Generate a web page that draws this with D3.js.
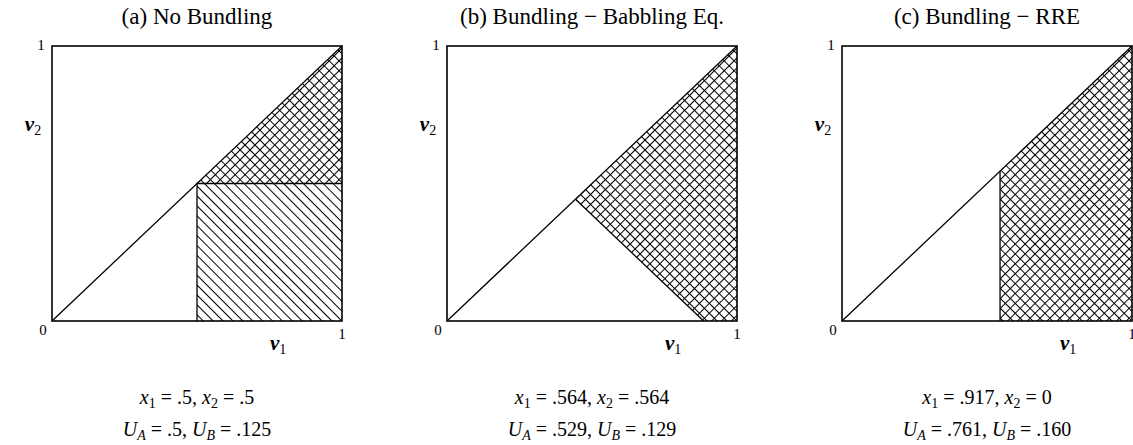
<!doctype html>
<html>
<head>
  <script src="https://d3js.org/d3.v7.min.js"></script>
</head>
<style>
  body {
    margin: 0;
    background: white;
  }

  svg text {
    font-family: "Liberation Serif", "Times New Roman", serif;
    fill: black;
  }
</style>
<body>
<svg></svg>

<script>
  // panel titles and the equilibrium numbers printed under each panel
  const titles = ["(a) No Bundling", "(b) Bundling \u2212 Babbling Eq.", "(c) Bundling \u2212 RRE"];
  const x1Vals = [".5", ".564", ".917"];
  const x2Vals = [".5", ".564", "0"];
  const uaVals = [".5", ".529", ".761"];
  const ubVals = [".125", ".129", ".160"];

  // regions in (v1, v2) units, one polygon per panel
  const crossRegions = [
    [[0.5, 0.5], [1, 1], [1, 0.5]],
    [[0.443, 0.443], [1, 1], [1, 0], [0.885, 0]],
    [[0.545, 0], [0.545, 0.545], [1, 1], [1, 0]]
  ];
  const hatchRegions = [
    [[0.5, 0], [1, 0], [1, 0.5], [0.5, 0.5]],
    null,
    null
  ];
  // boundary segments drawn over the regions
  const boundaries = [
    [[[0.5, 0], [0.5, 0.5], [1, 0.5]]],
    [[[0.443, 0.443], [0.885, 0]]],
    [[[0.545, 0], [0.545, 0.545]]]
  ];

  const chartWidth = 1133, chartHeight = 445;
  const panelLeft = [52, 447, 842];
  const panelW = 290, panelTop = 46, panelBottom = 321;
  const panelH = panelBottom - panelTop;

  const svg = d3.select("svg")
    .attr("width", chartWidth)
    .attr("height", chartHeight);

  const defs = svg.append("defs");
  const gap = 7;
  const cross = defs.append("pattern")
    .attr("id", "cross")
    .attr("patternUnits", "userSpaceOnUse")
    .attr("width", gap).attr("height", gap)
    .attr("patternTransform", "rotate(45)");
  cross.append("line")
    .attr("x1", 0).attr("y1", gap / 2).attr("x2", gap).attr("y2", gap / 2)
    .attr("stroke", "black").attr("stroke-width", 1);
  cross.append("line")
    .attr("x1", gap / 2).attr("y1", 0).attr("x2", gap / 2).attr("y2", gap)
    .attr("stroke", "black").attr("stroke-width", 1);

  const hatch = defs.append("pattern")
    .attr("id", "hatch")
    .attr("patternUnits", "userSpaceOnUse")
    .attr("width", gap).attr("height", gap)
    .attr("patternTransform", "rotate(45)");
  hatch.append("line")
    .attr("x1", 0).attr("y1", gap / 2).attr("x2", gap).attr("y2", gap / 2)
    .attr("stroke", "black").attr("stroke-width", 1);

  titles.forEach(function (title, i) {
    const g = svg.append("g")
      .attr("transform", `translate(${panelLeft[i]}, ${panelTop})`);
    const x = d3.scaleLinear().domain([0, 1]).range([0, panelW]);
    const y = d3.scaleLinear().domain([0, 1]).range([panelH, 0]);
    const line = d3.line().x(d => x(d[0])).y(d => y(d[1]));

    if (hatchRegions[i]) {
      g.append("path")
        .attr("d", line(hatchRegions[i]) + "Z")
        .attr("fill", "url(#hatch)");
    }
    g.append("path")
      .attr("d", line(crossRegions[i]) + "Z")
      .attr("fill", "url(#cross)");

    // frame
    g.append("rect")
      .attr("x", x(0)).attr("y", y(1))
      .attr("width", x(1) - x(0)).attr("height", y(0) - y(1))
      .attr("fill", "none")
      .attr("stroke", "black")
      .attr("stroke-width", 1.6);

    // 45 degree line
    g.append("path")
      .attr("d", line([[0, 0], [1, 1]]))
      .attr("fill", "none")
      .attr("stroke", "black")
      .attr("stroke-width", 1.3);

    boundaries[i].forEach(function (seg) {
      g.append("path")
        .attr("d", line(seg))
        .attr("fill", "none")
        .attr("stroke", "black")
        .attr("stroke-width", 1.3);
    });

    // corner labels
    g.append("text")
      .attr("x", x(0) - 11).attr("y", y(1) + 4)
      .attr("font-size", 15)
      .attr("text-anchor", "middle")
      .text("1");
    g.append("text")
      .attr("x", x(0) - 9).attr("y", y(0) + 14)
      .attr("font-size", 15)
      .attr("text-anchor", "middle")
      .text("0");
    g.append("text")
      .attr("x", x(1)).attr("y", y(0) + 18)
      .attr("font-size", 15)
      .attr("text-anchor", "middle")
      .text("1");

    // axis names
    const v2 = g.append("text")
      .attr("x", x(0) - 19).attr("y", y(0.69))
      .attr("font-size", 21)
      .attr("font-style", "italic")
      .attr("font-weight", "bold")
      .attr("text-anchor", "middle");
    v2.append("tspan").text("v");
    v2.append("tspan").attr("font-size", 14).attr("dy", 4).attr("font-style", "normal").attr("font-weight", "normal").text("2");

    const v1 = g.append("text")
      .attr("x", x(0.78)).attr("y", y(0) + 29)
      .attr("font-size", 21)
      .attr("font-style", "italic")
      .attr("font-weight", "bold")
      .attr("text-anchor", "middle");
    v1.append("tspan").text("v");
    v1.append("tspan").attr("font-size", 14).attr("dy", 4).attr("font-style", "normal").attr("font-weight", "normal").text("1");

    // title
    svg.append("text")
      .attr("x", panelLeft[i] + panelW / 2)
      .attr("y", 24)
      .attr("font-size", 23)
      .attr("text-anchor", "middle")
      .text(title);

    // equilibrium values
    const cx = panelLeft[i] + panelW / 2;
    const l1 = svg.append("text")
      .attr("x", cx).attr("y", 404)
      .attr("font-size", 20)
      .attr("text-anchor", "middle");
    l1.append("tspan").attr("font-style", "italic").text("x");
    l1.append("tspan").attr("font-size", 14).attr("dy", 4).text("1");
    l1.append("tspan").attr("dy", -4).text(` = ${x1Vals[i]}, `);
    l1.append("tspan").attr("font-style", "italic").text("x");
    l1.append("tspan").attr("font-size", 14).attr("dy", 4).text("2");
    l1.append("tspan").attr("dy", -4).text(` = ${x2Vals[i]}`);

    const l2 = svg.append("text")
      .attr("x", cx).attr("y", 436)
      .attr("font-size", 20)
      .attr("text-anchor", "middle");
    l2.append("tspan").attr("font-style", "italic").text("U");
    l2.append("tspan").attr("font-size", 14).attr("font-style", "italic").attr("dy", 4).text("A");
    l2.append("tspan").attr("dy", -4).text(` = ${uaVals[i]}, `);
    l2.append("tspan").attr("font-style", "italic").text("U");
    l2.append("tspan").attr("font-size", 14).attr("font-style", "italic").attr("dy", 4).text("B");
    l2.append("tspan").attr("dy", -4).text(` = ${ubVals[i]}`);
  });
</script>
</body>
</html>
